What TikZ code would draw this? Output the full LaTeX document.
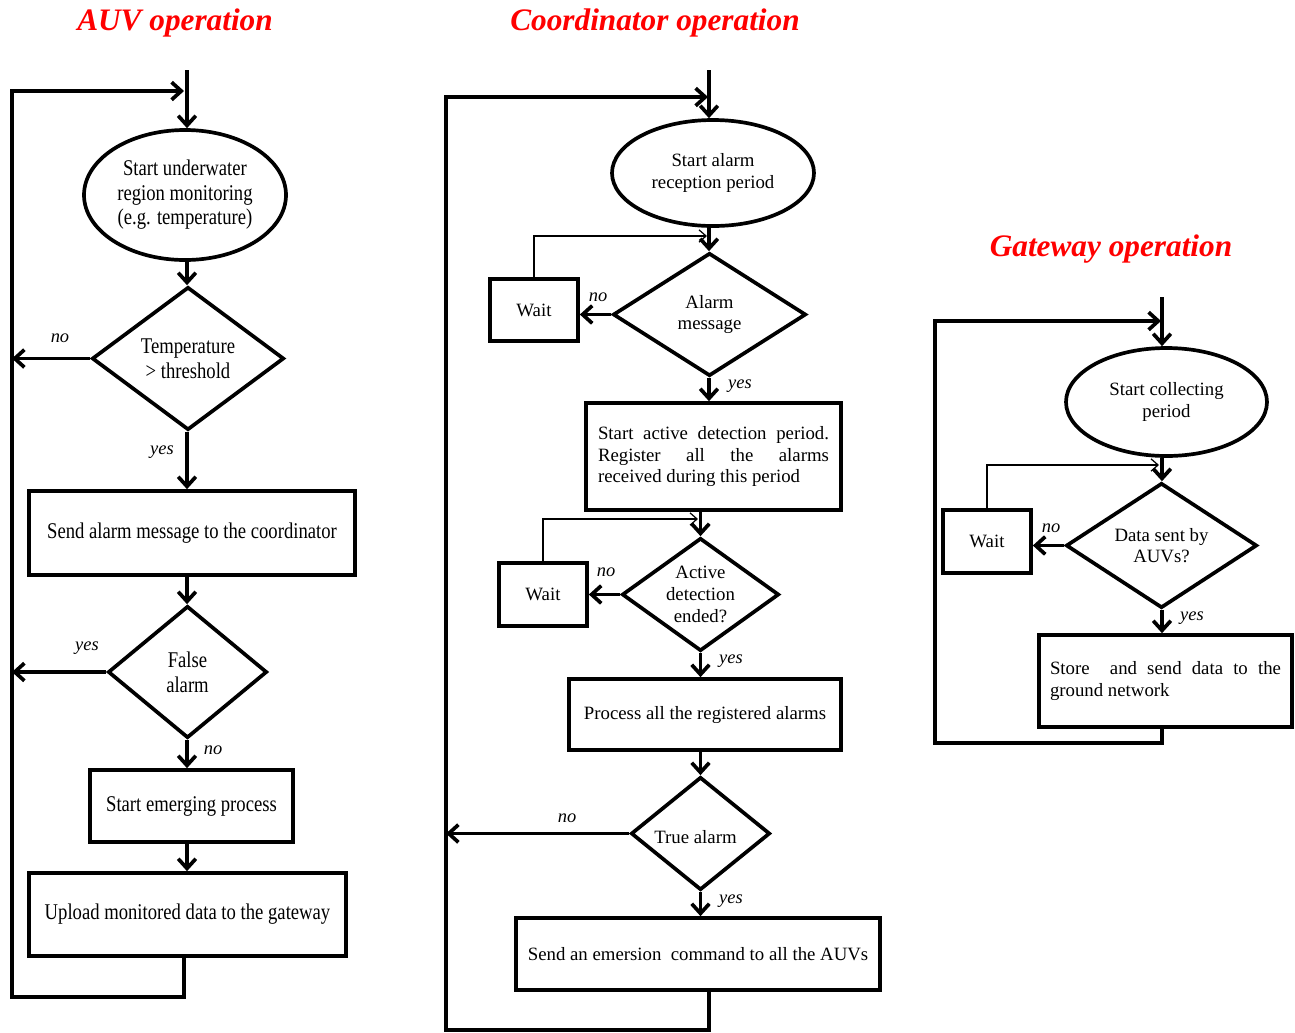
\documentclass[tikz,border=0pt]{standalone}
\usepackage{fontspec}
\setmainfont{Liberation Serif}
\newfontfamily\auvfont[FakeStretch=0.83]{Liberation Serif}
\usetikzlibrary{shapes.geometric,arrows.meta}
\begin{document}
\begin{tikzpicture}[x=0.02cm,y=-0.02cm,
  ln/.style={line width=2.1pt, line join=miter},
  arr/.style={ln, -{Straight Barb[length=5.5pt,width=10pt,line width=2.1pt]}},
  tarr/.style={line width=0.7pt, -{Straight Barb[length=4pt,width=7pt,line width=0.7pt]}},
  sz/.style 2 args={minimum width=#1*0.02cm, minimum height=#2*0.02cm},
  auvt/.style={font=\auvfont\fontsize{12.8}{14}\selectfont, align=center},
  ct/.style={font=\fontsize{10.7}{12.3}\selectfont, align=center},
  ell/.style={ellipse, draw, ln, inner sep=0pt},
  box/.style={rectangle, draw, ln, inner sep=0pt},
  dia/.style={diamond, draw, ln, inner sep=0pt},
  lab/.style={font=\itshape\fontsize{10.5}{12}\selectfont, inner sep=0pt},
  ttl/.style={font=\bfseries\itshape\fontsize{17.8}{20}\selectfont, text=red}
]
\useasboundingbox (0,0) rectangle (1295,1032);

% ---------- titles
\node[ttl] (t1) at (175,23) {AUV operation};
\node[ttl] (t2) at (655,23) {Coordinator operation};
\node[ttl] (t3) at (1111,249) {Gateway operation};

% ---------- AUV operation
\coordinate (aTop) at (187,70);
\node[ell, sz={202}{130}, auvt] (a1) at (185,195) {Start underwater\\region monitoring\\(e.g. temperature)};
\node[dia, sz={192}{143}, label={[auvt]center:{Temperature\\> threshold}}] (d1) at (188,358.5) {};
\node[box, sz={326}{84}, auvt] (b1) at (192,533) {Send alarm message to the coordinator};
\node[dia, sz={159}{132}, label={[auvt]center:{False\\alarm}}] (d2) at (187.5,672) {};
\node[box, sz={203}{72}, auvt] (b2) at (191.5,806) {Start emerging process};
\node[box, sz={317}{83}, auvt] (b3) at (187.5,914.5) {Upload monitored data to the gateway};

\coordinate (aB) at (184,997);
\coordinate (aL) at (12,997);
\coordinate (aLT) at (12,91);
\coordinate (aIn) at (184,91);

\draw[arr] (aTop) -- (aTop |- a1.north);
\draw[arr] (aTop |- a1.south) -- (aTop |- d1.north);
\draw[arr] (aTop |- d1.south) -- (aTop |- b1.north);
\draw[arr] (aTop |- b1.south) -- (aTop |- d2.north);
\draw[arr] (aTop |- d2.south) -- (aTop |- b2.north);
\draw[arr] (aTop |- b2.south) -- (aTop |- b3.north);
\draw[arr] (aB |- b3.south) -- (aB) -- (aL) -- (aLT) -- (aIn);
\draw[arr] (d1.west) -- (d1.west -| aL);
\draw[arr] (d2.west) -- (d2.west -| aL);

\node[lab] (l1) at (60,338) {no};
\node[lab] (l2) at (162,452) {yes};
\node[lab] (l3) at (87,648) {yes};
\node[lab] (l4) at (213,750) {no};

% ---------- Coordinator operation
\coordinate (cTop) at (709,70);
\node[ell, sz={202}{106}, ct] (c1) at (713,173) {Start alarm\\reception period};
\node[dia, sz={193}{123}, label={[ct]center:{Alarm\\message}}] (cd1) at (709.5,314.5) {};
\node[box, sz={88}{62}, ct] (cw1) at (534,310) {Wait};
\node[box, sz={255}{107}, ct, text width=4.62cm, align=justify] (cb1) at (713.5,456.5)
  {Start active detection period. \linebreak Register all the alarms \linebreak received during this period};
\node[dia, sz={157}{113}, label={[ct]center:{Active\\detection\\ended?}}] (cd2) at (700.5,594.5) {};
\node[box, sz={88}{63}, ct] (cw2) at (543,594.5) {Wait};
\node[box, sz={272}{71}, ct] (cb2) at (705,714.5) {Process all the registered alarms};
\node[dia, sz={139}{113}, label={[ct, xshift=-0.1cm, yshift=-0.08cm]center:{True alarm}}] (cd3) at (700.5,833.5) {};
\node[box, sz={364}{72}, ct] (cb3) at (698,954) {Send an emersion\ \ command to all the AUVs};

\coordinate (cB) at (709,1030);
\coordinate (cL) at (446,1030);
\coordinate (cLT) at (446,97);
\coordinate (cIn) at (708,97);
\coordinate (cT1) at (707,236);
\coordinate (cT2) at (698,519);

\draw[arr] (cTop) -- (cTop |- c1.north);
\draw[arr] (cTop |- c1.south) -- (cTop |- cd1.north);
\draw[arr] (cTop |- cd1.south) -- (cTop |- cb1.north);
\draw[arr] (cd2.north |- cb1.south) -- (cd2.north);
\draw[arr] (cd2.south) -- (cd2.south |- cb2.north);
\draw[arr] (cd3.north |- cb2.south) -- (cd3.north);
\draw[arr] (cd3.south) -- (cd3.south |- cb3.north);
\draw[arr] (cB |- cb3.south) -- (cB) -- (cL) -- (cLT) -- (cIn);
\draw[arr] (cd1.west) -- (cd1.west -| cw1.east);
\draw[arr] (cd2.west) -- (cd2.west -| cw2.east);
\draw[arr] (cd3.west) -- (cd3.west -| cL);
\draw[tarr] (cw1.north) |- (cT1);
\draw[tarr] (cw2.north) |- (cT2);

\node[lab] (l5) at (598,297) {no};
\node[lab] (l6) at (740,386) {yes};
\node[lab] (l7) at (606,572) {no};
\node[lab] (l8) at (731,661) {yes};
\node[lab] (l9) at (567,818) {no};
\node[lab] (l10) at (731,901) {yes};

% ---------- Gateway operation
\coordinate (gTop) at (1162,297);
\node[ell, sz={201}{108}, ct] (g1) at (1166.5,402) {Start collecting\\period};
\node[dia, sz={191}{125}, label={[ct]center:{Data sent by\\AUVs?}}] (gd1) at (1161.5,545.5) {};
\node[box, sz={88}{63}, ct] (gw1) at (987,541.5) {Wait};
\node[box, sz={253}{92}, ct, text width=4.62cm, align=justify] (gb1) at (1165.5,681)
  {Store\ \ and send data to the \linebreak ground network};

\coordinate (gB) at (1162,743);
\coordinate (gL) at (935,743);
\coordinate (gLT) at (935,321);
\coordinate (gIn) at (1161,321);
\coordinate (gT1) at (1159,465);

\draw[arr] (gTop) -- (gTop |- g1.north);
\draw[arr] (gTop |- g1.south) -- (gTop |- gd1.north);
\draw[arr] (gTop |- gd1.south) -- (gTop |- gb1.north);
\draw[arr] (gB |- gb1.south) -- (gB) -- (gL) -- (gLT) -- (gIn);
\draw[arr] (gd1.west) -- (gd1.west -| gw1.east);
\draw[tarr] (gw1.north) |- (gT1);

\node[lab] (l11) at (1051,528) {no};
\node[lab] (l12) at (1192,618) {yes};
\end{tikzpicture}
\end{document}
